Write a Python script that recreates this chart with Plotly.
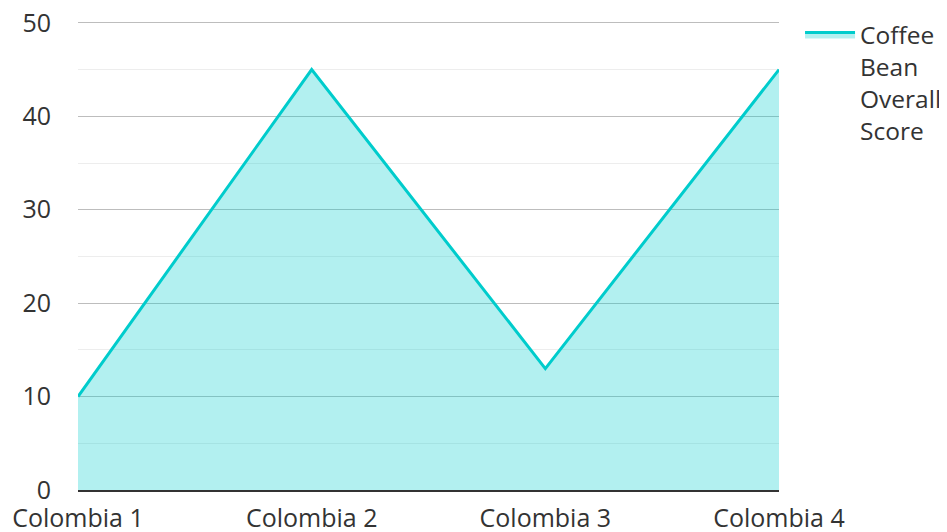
import plotly.graph_objects as go

categories = ["Colombia 1", "Colombia 2", "Colombia 3", "Colombia 4"]
scores = [10, 45, 13, 45]
series_name = "Coffee<br>Bean<br>Overall<br>Score"
y_ticks = [0, 10, 20, 30, 40, 50]

fig = go.Figure()
fig.add_trace(go.Scatter(
    x=categories, y=scores, name=series_name, mode="lines",
    line=dict(color="#00CCCC", width=3),
    fill="tozeroy", fillcolor="rgba(0,204,204,0.3)",
))

# The page body adds an 8px margin, so the figure is sized 8px smaller.
font = dict(family="Open Sans", size=25, color="#333333")
legend_font = dict(family="Open Sans", size=24.5, color="#333333")
fig.update_layout(
    width=939, height=524,
    margin=dict(l=70, r=168, t=13, b=42, autoexpand=False),
    paper_bgcolor="white", plot_bgcolor="white",
    font=font,
    showlegend=True,
    legend=dict(x=1.03, y=1.019, xanchor="left", yanchor="top",
                font=legend_font, valign="top", bgcolor="rgba(0,0,0,0)",
                itemwidth=50, tracegroupgap=0),
    xaxis=dict(type="category", range=[0, 3], showgrid=False, automargin=False,
               showline=True, linecolor="#333333", linewidth=2,
               ticks="", tickfont=font, ticklabelstandoff=5,
               ticklabeloverflow="allow"),
    yaxis=dict(range=[0, 50.2], tickvals=y_ticks, showgrid=True, automargin=False,
               gridcolor="rgba(0,0,0,0.2)", gridwidth=1,
               minor=dict(dtick=5, showgrid=True, gridcolor="rgba(0,0,0,0.07)", gridwidth=1),
               zeroline=False, showline=False, ticks="",
               tickfont=font, ticklabelstandoff=26,
               ticklabeloverflow="allow"),
)

fig.write_html("out.html")
